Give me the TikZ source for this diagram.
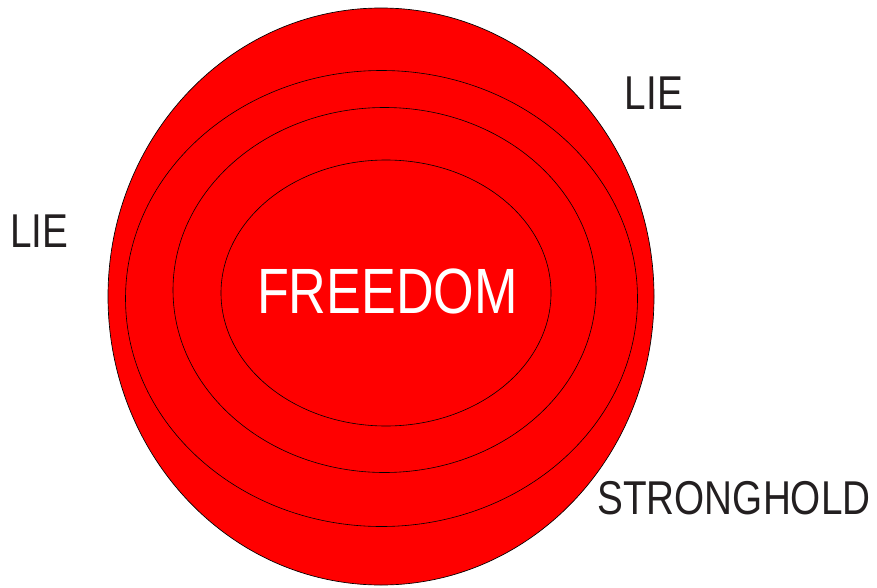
\documentclass[tikz,border=0pt]{standalone}
\usepackage{fontspec}
\setmainfont[FakeStretch=0.815]{Liberation Sans}
\definecolor{inkgray}{HTML}{231F20}
\tikzset{
  ring/.style={fill=red,draw=black,line width=0.5pt},
  lielabel/.style={anchor=base,inner sep=0pt,text=inkgray,font=\fontsize{35.6}{36}\selectfont}
}
\begin{document}
\begin{tikzpicture}[x=0.75pt,y=0.75pt]
 \useasboundingbox (0,0) rectangle (877,587);
 \filldraw[ring] (381,290.5) ellipse (273 and 288.5);
 \draw[line width=0.45pt] (381.5,288.5) ellipse (256 and 228);
 \draw[line width=0.45pt] (384.5,297) ellipse (211.5 and 182.5);
 \draw[line width=0.45pt] (386,294) ellipse (165 and 133);
 \node[anchor=base,inner sep=0pt,text=white,font=\fontsize{48}{48}\selectfont] (freedom) at (387.5,274) {FREEDOM};
 \node[lielabel] (lieright) at (654,478) {LIE};
 \node[lielabel] (lieleft) at (39.5,340) {LIE};
 \node[lielabel] (stronghold) at (734,73) {STRONGHOLD};
\end{tikzpicture}
\end{document}
